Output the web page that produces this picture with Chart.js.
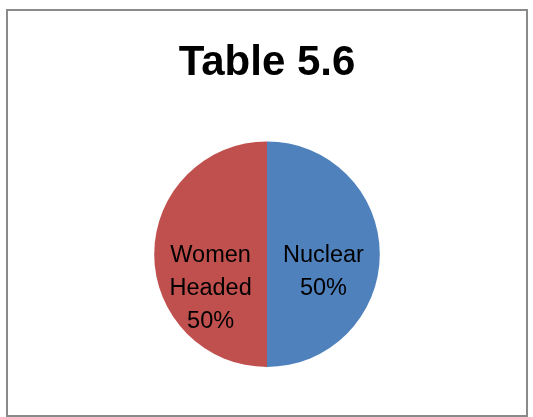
<!DOCTYPE html>
<html>
<head>
<meta charset="utf-8">
<script src="https://cdn.jsdelivr.net/npm/chart.js@4/dist/chart.umd.min.js"></script>
<style>
  html, body { margin: 0; padding: 0; background: #fff; }
  #wrap { width: 533px; height: 417px; }
</style>
</head>
<body>
<div id="wrap"><canvas id="js-pie-chart" width="533" height="417"></canvas></div>
<script>
// pie data
const categories = ["Nuclear", "Women Headed"];
const shares = [50, 50];
const sliceLabels = [["Nuclear", "50%"], ["Women", "Headed", "50%"]];
const sliceColors = ["#4F81BD", "#C0504D"];

// frame round the chart, like the office export
const framePlugin = {
    id: "frame",
    beforeDraw(chart) {
        const ctx = chart.ctx;
        ctx.save();
        ctx.fillStyle = "#ffffff";
        ctx.fillRect(0, 0, chart.width, chart.height);
        ctx.strokeStyle = "#8a8a8a";
        ctx.lineWidth = 2;
        ctx.strokeRect(7, 10, chart.width - 13, chart.height - 11);
        ctx.restore();
    },
};

// labels inside the slices
const sliceLabelPlugin = {
    id: "sliceLabels",
    afterDatasetsDraw(chart) {
        const ctx = chart.ctx;
        const meta = chart.getDatasetMeta(0);
        ctx.save();
        ctx.fillStyle = "#000000";
        ctx.font = "23.5px 'Liberation Sans', Arial, sans-serif";
        ctx.textAlign = "center";
        ctx.textBaseline = "middle";
        meta.data.forEach((arc, i) => {
            const p = arc.tooltipPosition();
            sliceLabels[i].forEach((line, j) => {
                ctx.fillText(line, p.x, p.y + 1 + j * 33);
            });
        });
        ctx.restore();
    },
};

const ctx = document.getElementById("js-pie-chart").getContext("2d");
const pieChart = new Chart(ctx, {
    type: "pie",
    data: {
        labels: categories,
        datasets: [
            {
                data: shares,
                backgroundColor: sliceColors,
                borderWidth: 0,
            },
        ],
    },
    options: {
        responsive: false,
        animation: false,
        devicePixelRatio: 1,
        layout: {
            padding: { top: 0, bottom: 50, left: 1, right: 0 },
        },
        plugins: {
            legend: { display: false },
            tooltip: { enabled: false },
            title: {
                display: true,
                text: "Table 5.6",
                color: "#000000",
                font: { family: "'Liberation Sans', Arial, sans-serif", size: 42, weight: "bold", lineHeight: 1.2 },
                padding: { top: 38, bottom: 53 },
            },
        },
    },
    plugins: [framePlugin, sliceLabelPlugin],
});
</script>
</body>
</html>
